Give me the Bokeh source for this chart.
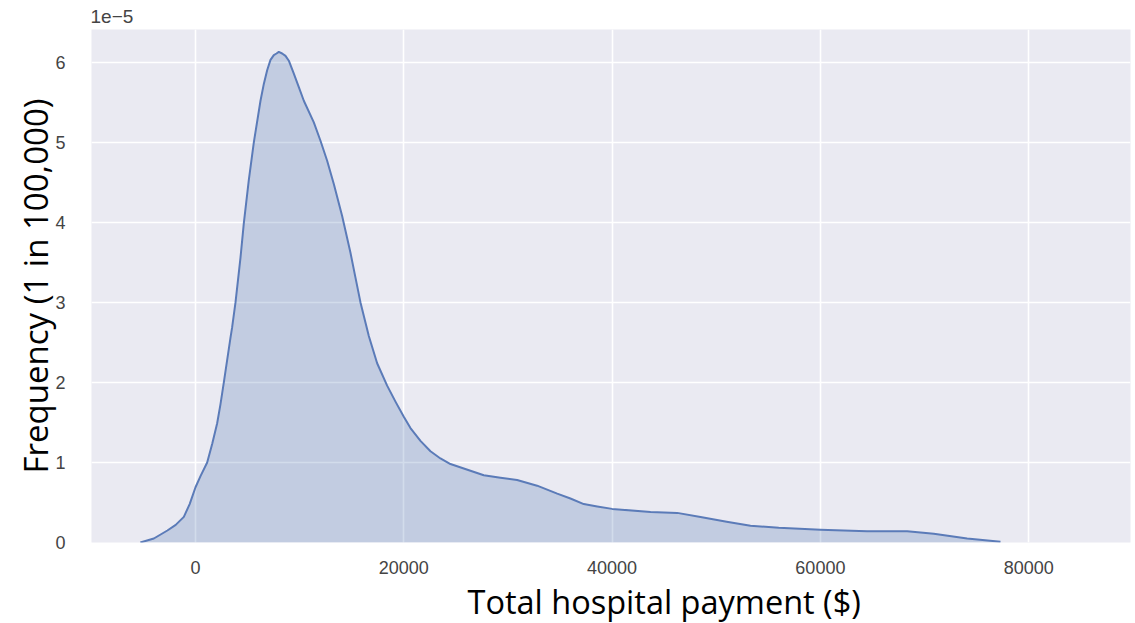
from bokeh.plotting import figure
from bokeh.models import FixedTicker, Range1d, Title
from bokeh.embed import file_html
from bokeh.resources import INLINE

# Total hospital payment ($) and KDE density (units of 1e-5)
payment = [-5300, -4000, -2700, -1900, -1120, -560, 0, 480, 1120, 1600, 2080, 2400,
           2720, 3360, 3520, 3840, 4320, 4640, 5120, 5600, 6240, 6560, 6880, 7200,
           7520, 7780, 8000, 8320, 8640, 8960, 9440, 9920, 10400, 11360, 12000,
           12640, 13280, 14080, 14880, 15360, 15840, 16640, 17440, 18400, 19200,
           20000, 20640, 21600, 22560, 23520, 24480, 27680, 29280, 30880, 32800,
           34730, 36000, 37280, 38570, 40000, 43690, 46250, 48490, 51000, 53290,
           56000, 60000, 64490, 68330, 70890, 74090, 77290]
density = [0.0, 0.05, 0.15, 0.22, 0.32, 0.48, 0.69, 0.83, 1.0, 1.23, 1.49, 1.73,
           2.0, 2.56, 2.69, 3.0, 3.56, 3.99, 4.53, 5.0, 5.52, 5.73, 5.9, 6.03,
           6.09, 6.11, 6.13, 6.11, 6.08, 6.02, 5.86, 5.69, 5.52, 5.25, 5.02,
           4.77, 4.48, 4.08, 3.62, 3.31, 3.0, 2.58, 2.24, 1.96, 1.76,
           1.57, 1.43, 1.27, 1.14, 1.05, 0.98, 0.84, 0.81, 0.78, 0.71,
           0.61, 0.55, 0.48, 0.45, 0.42, 0.38, 0.37, 0.32, 0.26, 0.21,
           0.185, 0.16, 0.14, 0.14, 0.11, 0.05, 0.01]
baseline = [0.0] * len(payment)

x_ticks = [0, 20000, 40000, 60000, 80000]
y_ticks = [0, 1, 2, 3, 4, 5, 6]
x_label = "Total hospital payment ($)"
y_label = "Frequency (1 in 100,000)"
scale_label = "1e\u22125"

p = figure(width=1135, height=623, output_backend="svg", toolbar_location=None,
           x_range=Range1d(-9986, 89775), y_range=Range1d(0, 6.41),
           min_border_left=91, min_border_right=5, min_border_top=29,
           min_border_bottom=81, title=scale_label)

p.background_fill_color = "#eaeaf2"
p.border_fill_color = "white"
p.outline_line_color = None

p.title.text_font = "Liberation Sans"
p.title.text_font_size = "19px"
p.title.text_font_style = "normal"
p.title.text_color = "#444444"
p.title.align = "left"
p.title.offset = -1
p.title.standoff = 13

p.varea(x=payment, y1=baseline, y2=density, fill_color="#4c72b0", fill_alpha=0.25)
p.line(x=payment, y=density, line_color="#5b7bb8", line_width=2, line_join="round")

for g in (p.xgrid, p.ygrid):
    g.grid_line_color = "white"
    g.grid_line_width = 1.6
p.xgrid.ticker = FixedTicker(ticks=x_ticks)
p.ygrid.ticker = FixedTicker(ticks=y_ticks)

p.xaxis.ticker = FixedTicker(ticks=x_ticks)
p.yaxis.ticker = FixedTicker(ticks=y_ticks)

for ax in (p.xaxis, p.yaxis):
    ax.axis_line_color = None
    ax.major_tick_line_color = None
    ax.minor_tick_line_color = None
    ax.major_label_text_font = "Liberation Sans"
    ax.major_label_text_font_size = "18px"
    ax.major_label_text_color = "#444444"
    ax.axis_label_text_font = "Open Sans"
    ax.axis_label_text_font_style = "normal"
    ax.axis_label_text_color = "black"
    ax.axis_label_text_font_size = "33px"

p.yaxis.axis_label = y_label
p.xaxis.major_label_standoff = 12
p.yaxis.major_label_standoff = 20
p.yaxis.axis_label_standoff = -6

p.add_layout(Title(text=x_label, align="left", offset=376, standoff=0,
                   text_font="Open Sans", text_font_size="32.5px",
                   text_font_style="normal", text_color="black"), "below")

open("out.html", "w").write(file_html(p, INLINE))
